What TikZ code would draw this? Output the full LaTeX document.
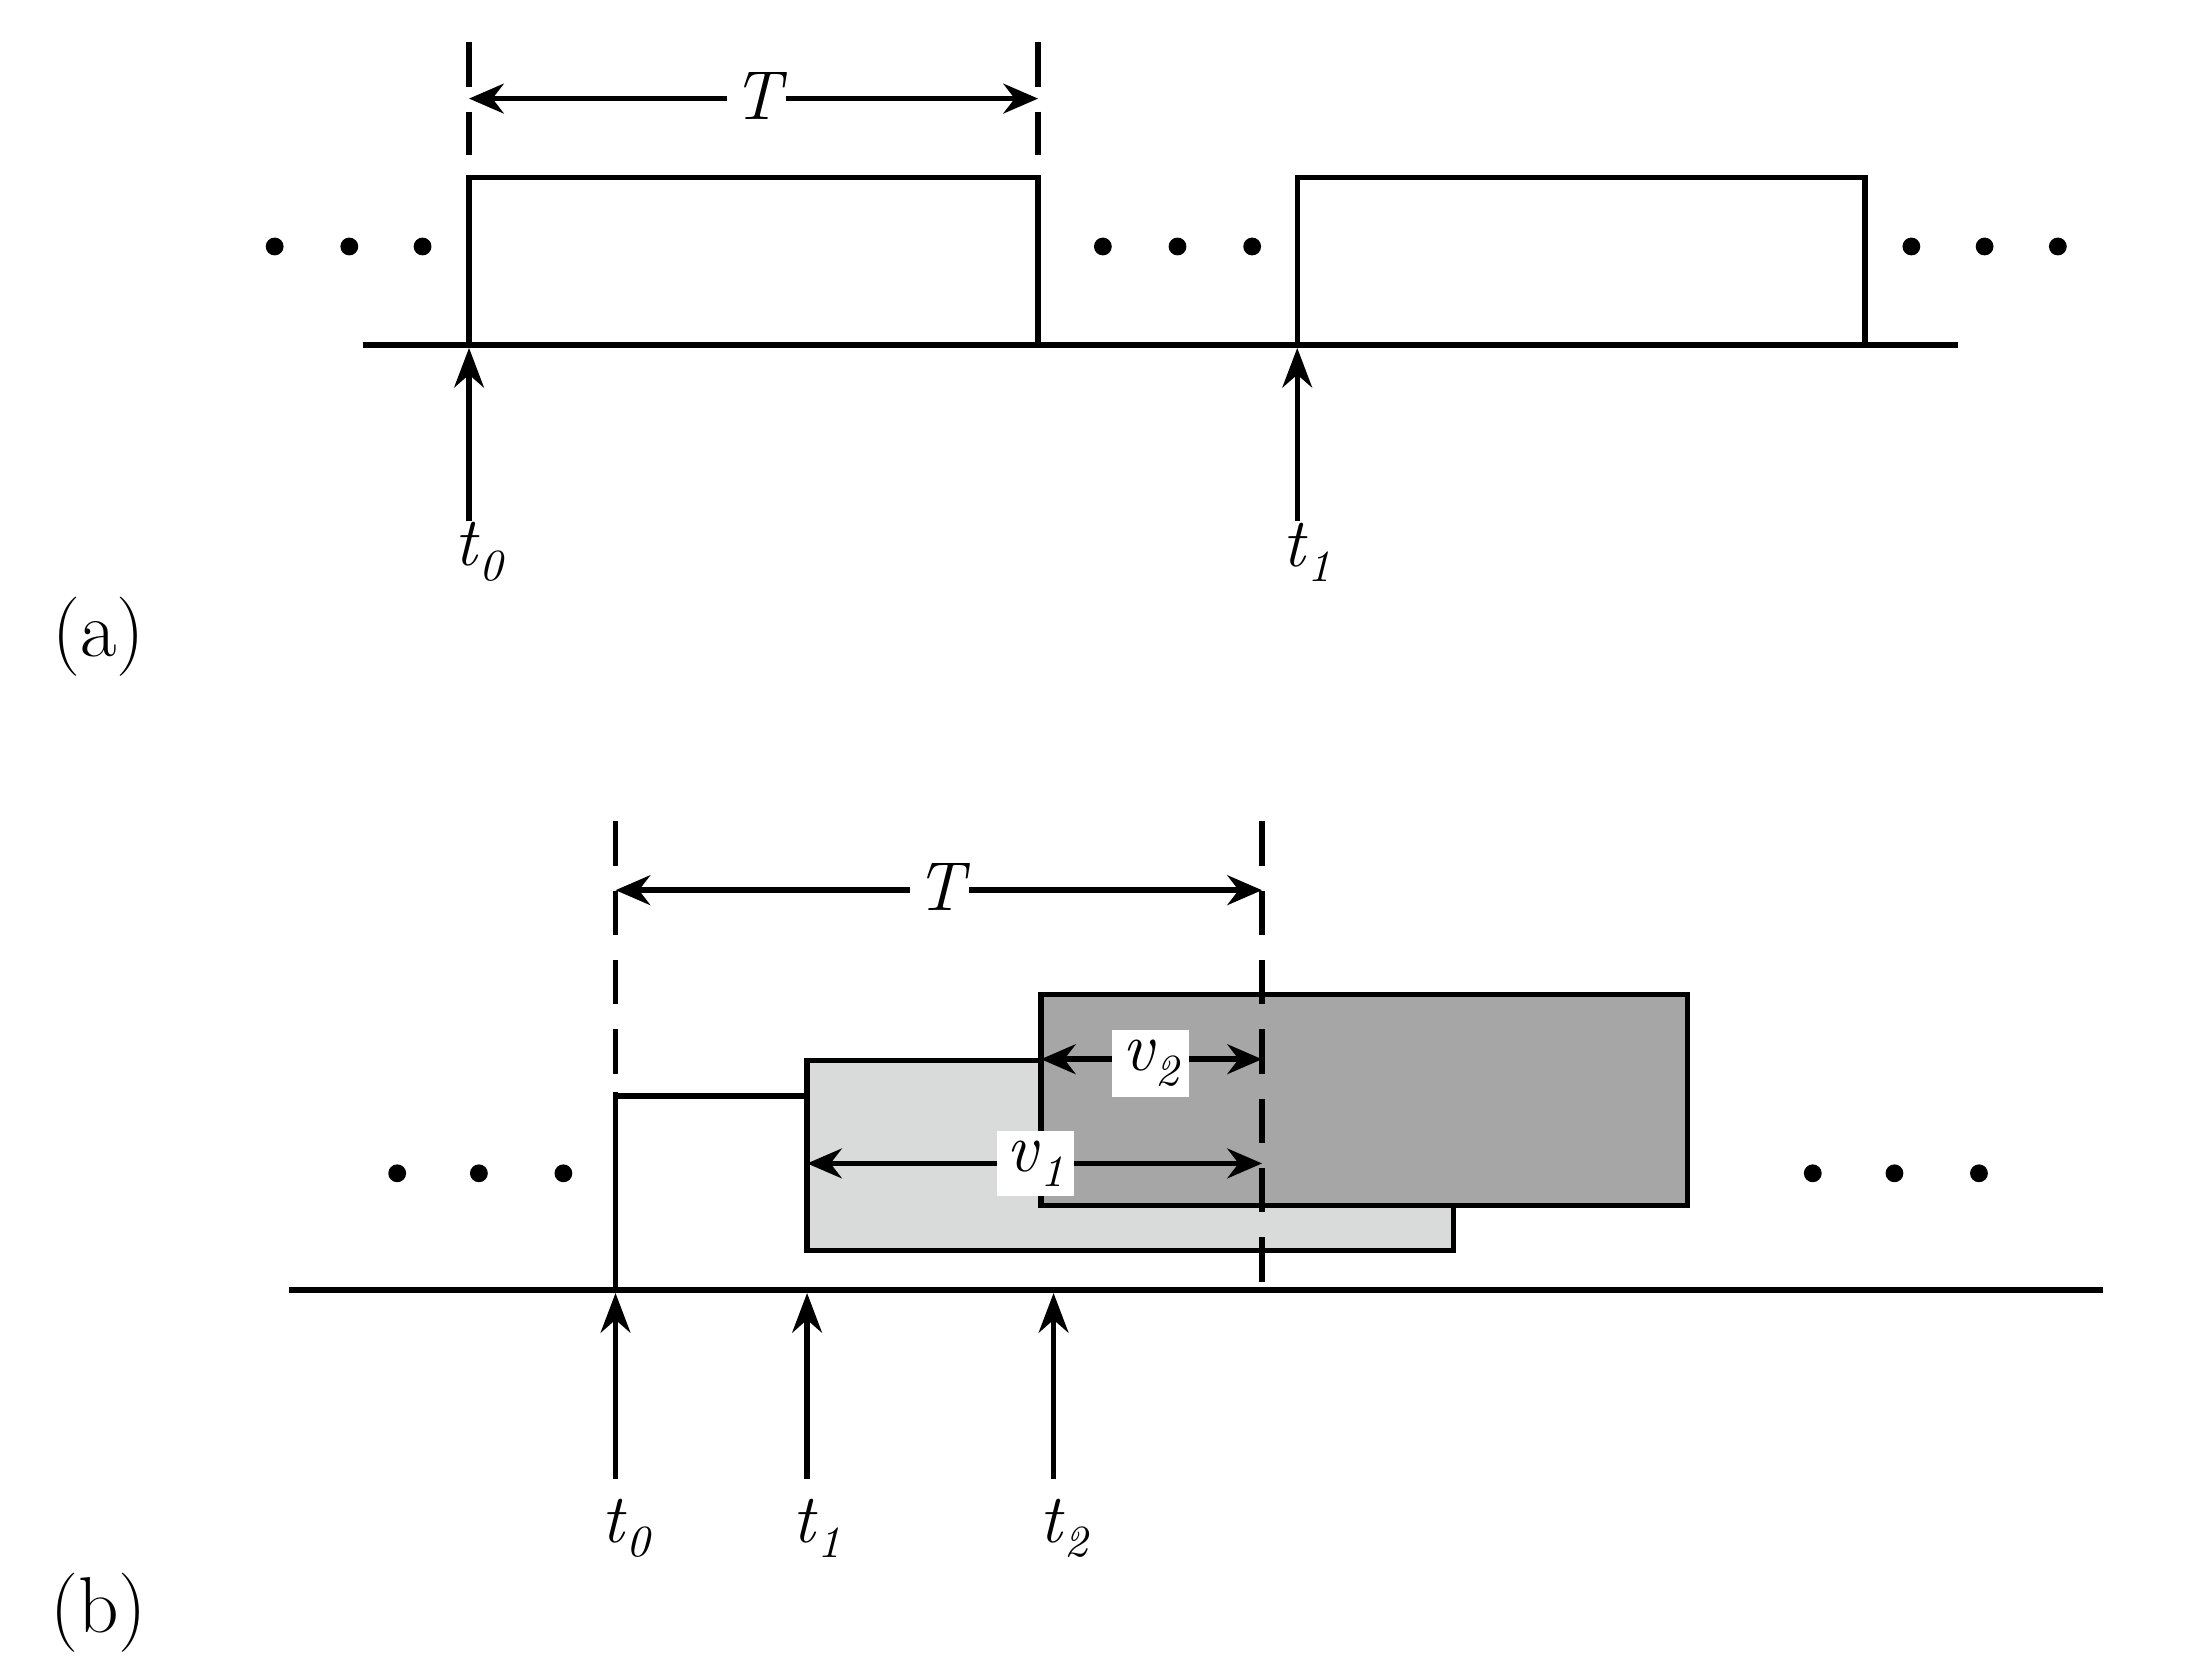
\documentclass[tikz,border=0pt]{standalone}
\usetikzlibrary{arrows.meta}
\begin{document}
\begin{tikzpicture}[x=0.01cm,y=-0.01cm,line width=1.1pt,
  dim/.style={{Stealth[length=7pt,width=6pt]}-{Stealth[length=7pt,width=6pt]}},
  up/.style={-{Stealth[length=8pt,width=6pt]}},
  dsh/.style={dash pattern=on 9pt off 5pt},
  lbl/.style={font=\fontsize{14}{16}\selectfont\itshape},
  dot/.style={circle,fill,inner sep=0pt,minimum size=3.6pt}]
\useasboundingbox (0,0) rectangle (1552,1176);
% (a)
\draw (258,245) -- (1390,245);
\draw (333,245) -- (333,126) -- (737,126) -- (737,245);
\draw (921,245) -- (921,126) -- (1324,126) -- (1324,245);
\coordinate (a0t) at (333,30); \coordinate (a0b) at (333,110);
\coordinate (a1t) at (737,30); \coordinate (a1b) at (737,110);
\draw[dsh] (a0t) -- (a0b); \draw[dsh] (a1t) -- (a1b);
\coordinate (aT1) at (333,70); \coordinate (aT2) at (737,70);
\draw[dim] (aT1) -- (aT2);
\node[lbl,fill=white,inner sep=1pt] (aT) at (537,68) {T};
\coordinate (ua0) at (333,370); \coordinate (ha0) at (333,247);
\coordinate (ua1) at (921,370); \coordinate (ha1) at (921,247);
\draw[up] (ua0) -- (ha0); \draw[up] (ua1) -- (ha1);
\node[lbl] (at0) at (340,392) {t\kern0.5pt\raisebox{-3pt}{\small 0}};
\node[lbl] (at1) at (928,392) {t\kern0.5pt\raisebox{-3pt}{\small 1}};
\foreach \x in {195,248,300,783,836,889,1357,1409,1461} \node[dot] at (\x,175) {};
\node[font=\fontsize{16}{18}\selectfont] (la) at (70,452) {(a)};
% (b)
\draw (205,916) -- (1493,916);
\draw[fill={rgb,255:red,217;green,219;blue,219}] (573,753) rectangle (1032,888);
\draw (437,778) -- (573,778);
\draw[fill={rgb,255:red,166;green,166;blue,166}] (739,706) rectangle (1198,856);
\coordinate (b0t) at (437,583); \coordinate (b0m) at (437,775);
\coordinate (b0b) at (437,916);
\draw[dsh] (b0t) -- (b0m); \draw (b0m) -- (b0b);
\coordinate (b1t) at (896,583); \coordinate (b1b) at (896,916);
\draw[dsh] (b1t) -- (b1b);
\coordinate (bT1) at (437,632); \coordinate (bT2) at (896,632);
\draw[dim] (bT1) -- (bT2);
\node[lbl,fill=white,inner sep=1pt] (bT) at (667,630) {T};
\coordinate (v21) at (739,752); \coordinate (v22) at (896,752);
\coordinate (v11) at (573,826); \coordinate (v12) at (896,826);
\draw[dim] (v21) -- (v22);
\draw[dim] (v11) -- (v12);
\node[lbl,fill=white,inner sep=2pt] (v2) at (817,755) {v\kern0.5pt\raisebox{-3pt}{\small 2}};
\node[lbl,fill=white,inner sep=2pt] (v1) at (735,826) {v\kern0.5pt\raisebox{-3pt}{\small 1}};
\foreach \x in {282,340,400,1287,1345,1405} \node[dot] at (\x,833) {};
\foreach \x/\n in {437/0,573/1,748/2} {
  \coordinate (u\n) at (\x,1050); \coordinate (h\n) at (\x,918);
  \draw[up] (u\n) -- (h\n);
  \node[lbl] (bt\n) at (\x+7,1085) {t\kern0.5pt\raisebox{-3pt}{\small \n}};
}
\node[font=\fontsize{16}{18}\selectfont] (lb) at (70,1145) {(b)};
\end{tikzpicture}
\end{document}
